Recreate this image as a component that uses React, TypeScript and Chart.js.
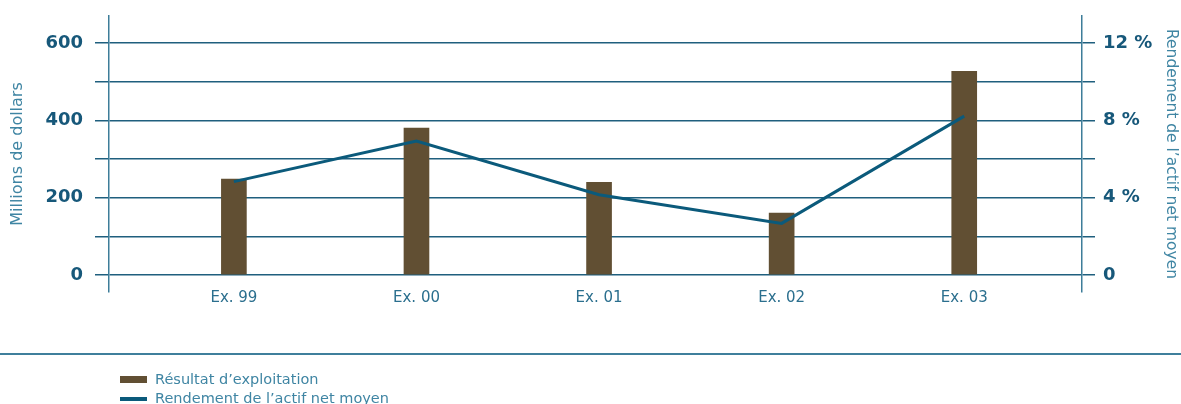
import React, { useEffect, useRef } from "react";
import { Chart, registerables } from "chart.js";

Chart.register(...registerables);

const categories = ["Ex. 99", "Ex. 00", "Ex. 01", "Ex. 02", "Ex. 03"];
const resultatExploitation = [248, 380, 240, 160, 527];
const rendementActif = [4.83, 6.93, 4.15, 2.67, 8.22];
const leftTicks = [0, 100, 200, 300, 400, 500, 600];
const rightTicks = [0, 2, 4, 6, 8, 10, 12];

const BROWN = "#614f33";
const LINE = "#0b5a7b";
const GRID = "#1f5f7e";
const TICK = "#17587a";
const TITLE = "#3f85a3";
const FONT = "'DejaVu Sans', sans-serif";

export default function App() {
  const ref = useRef<HTMLCanvasElement | null>(null);

  useEffect(() => {
    if (!ref.current) return;
    const chart = new Chart(ref.current, {
      type: "bar",
      data: {
        datasets: [
          {
            type: "line",
            label: "Rendement de l’actif net moyen",
            data: rendementActif.map((v, i) => ({ x: i, y: v })),
            yAxisID: "y2",
            borderColor: LINE,
            borderWidth: 3,
            pointRadius: 0,
            tension: 0,
            order: 0,
          } as any,
          {
            type: "bar",
            label: "Résultat d’exploitation",
            data: resultatExploitation.map((v, i) => ({ x: i, y: v })),
            yAxisID: "y",
            backgroundColor: BROWN,
            barThickness: 25,
            order: 1,
          } as any,
        ],
      },
      options: {
        animation: false,
        responsive: true,
        maintainAspectRatio: false,
        layout: { padding: { top: 16, left: 0, right: 0, bottom: 0 } },
        plugins: { legend: { display: false }, tooltip: { enabled: false } },
        scales: {
          x: {
            type: "linear",
            offset: false,
            bounds: "ticks",
            min: -0.684,
            max: 4.645,
            afterBuildTicks: (s: any) => {
              s.ticks = categories.map((_, i) => ({ value: i }));
            },
            afterFit: (s: any) => {
              s.height = 28;
              s.paddingLeft = 0;
              s.paddingRight = 0;
              s._computeLabelArea = () => undefined;
            },
            grid: { display: false, drawTicks: false, offset: false },
            border: { display: false },
            ticks: {
              padding: -3,
              color: "#2b6f8e",
              font: { family: FONT, size: 15 },
              maxRotation: 0,
              autoSkip: false,
              callback: (v: any) => categories[Math.round(Number(v))] ?? "",
            },
          },
          y: {
            type: "linear",
            position: "left",
            min: -44,
            max: 670,
            afterBuildTicks: (s: any) => {
              s.ticks = leftTicks.map((v) => ({ value: v }));
            },
            afterFit: (s: any) => {
              s.width = 109;
              s.paddingTop = 0;
              s.paddingBottom = 0;
            },
            grid: { color: GRID, lineWidth: 1.5, tickLength: 14 },
            border: { display: true, color: "#3d7d99", width: 1.5 },
            ticks: {
              padding: 12,
              color: TICK,
              font: { family: FONT, size: 18, weight: "bold" },
              callback: (v: any) => (Number(v) % 200 === 0 ? String(v) : ""),
            },
            title: {
              display: true,
              text: "Millions de dollars",
              color: TITLE,
              font: { family: FONT, size: 16 },
              padding: { top: 8, bottom: 0 },
            },
          },
          y2: {
            type: "linear",
            position: "right",
            min: -0.88,
            max: 13.4,
            afterBuildTicks: (s: any) => {
              s.ticks = rightTicks.map((v) => ({ value: v }));
            },
            afterFit: (s: any) => {
              s.width = 99;
              s.paddingTop = 0;
              s.paddingBottom = 0;
            },
            grid: { drawOnChartArea: false, color: GRID, lineWidth: 1.5, tickLength: 13 },
            border: { display: true, color: "#3d7d99", width: 1.5 },
            ticks: {
              padding: 8,
              color: TICK,
              font: { family: FONT, size: 18, weight: "bold" },
              callback: (v: any) => {
                const n = Number(v);
                if (n === 0) return "0";
                return n % 4 === 0 ? `${n} %` : "";
              },
            },
            title: {
              display: true,
              text: "Rendement de l’actif net moyen",
              color: TITLE,
              font: { family: FONT, size: 15.5 },
              padding: { top: 1, bottom: 0 },
            },
          },
        },
      } as any,
    });
    return () => chart.destroy();
  }, []);

  return (
    <div style={{ position: "fixed", left: 0, top: 0, width: 1181, height: 404, background: "#fff", fontFamily: FONT }}>
      <div style={{ position: "absolute", left: 0, top: 0, width: 1181, height: 320 }}>
        <canvas ref={ref} />
      </div>
      <div style={{ position: "absolute", left: 0, top: 352.5, width: 1181, height: 2, background: "#3f7f9c" }} />
      <div style={{ position: "absolute", left: 120, top: 376, width: 27, height: 7, background: BROWN }} />
      <div style={{ position: "absolute", left: 155, top: 370, fontSize: 14.5, lineHeight: "18px", color: TITLE, whiteSpace: "nowrap" }}>
        Résultat d’exploitation
      </div>
      <div style={{ position: "absolute", left: 120, top: 397, width: 27, height: 4, background: LINE }} />
      <div style={{ position: "absolute", left: 155, top: 389, fontSize: 14.5, lineHeight: "18px", color: TITLE, whiteSpace: "nowrap" }}>
        Rendement de l’actif net moyen
      </div>
    </div>
  );
}
